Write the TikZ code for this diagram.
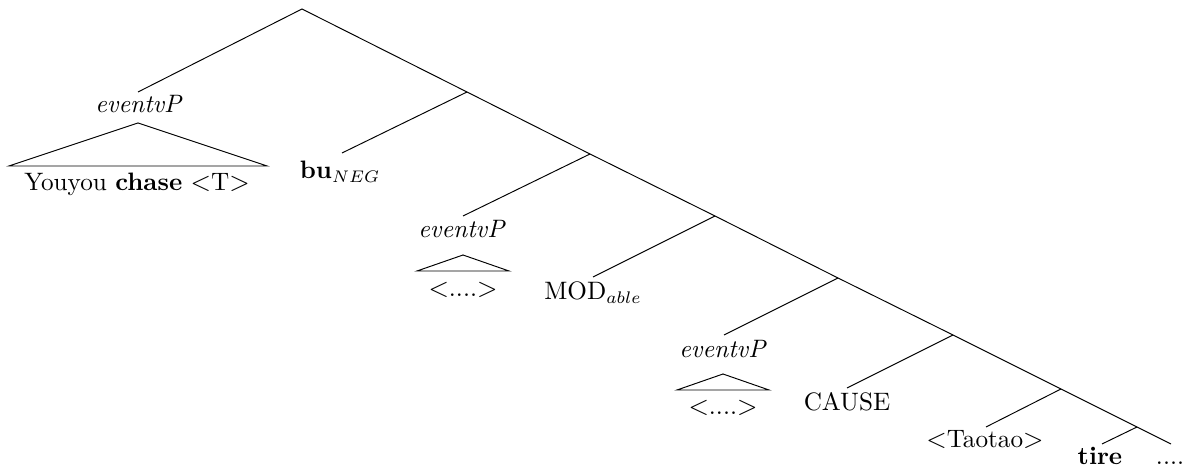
\documentclass[tikz,border=0pt]{standalone}
\begin{document}
\begin{tikzpicture}[x=0.41667pt,y=-0.41667pt,
  lbl/.style={anchor=base,inner sep=0pt,outer sep=0pt,font=\fontsize{10.5}{12.6}\selectfont},
  edge/.style={draw=black,line width=0.4pt}]
\useasboundingbox (0,0) rectangle (1184,470);
% branch points
\coordinate (r) at (302,9);
\coordinate (b1) at (467,92);
\coordinate (b2) at (590,154);
\coordinate (b3) at (715,216);
\coordinate (b4) at (838,278);
\coordinate (b5) at (953,335);
\coordinate (b6) at (1061,389);
\coordinate (b7) at (1137,427);
\coordinate (e8) at (1171,444);
% leaf line ends
\coordinate (l0) at (138,92);
\coordinate (l1) at (342,153);
\coordinate (l2) at (463,216);
\coordinate (l3) at (593,277);
\coordinate (l4) at (724,335);
\coordinate (l5) at (847,388);
\coordinate (l6) at (986,427);
\coordinate (l7) at (1102,444);
% triangles
\coordinate (t1a) at (138,123); \coordinate (t1l) at (9,166); \coordinate (t1r) at (267,166);
\coordinate (t2a) at (463,255); \coordinate (t2l) at (417,271); \coordinate (t2r) at (509,271);
\coordinate (t3a) at (723,374); \coordinate (t3l) at (677,390); \coordinate (t3r) at (769,390);
% labels
\node[lbl] (ev1) at (139,113) {\textit{eventvP}};
\node[lbl] (yc) at (137,191) {Youyou \textbf{chase} $<$T$>$};
\node[lbl] (bu) at (340,179) {\textbf{bu}$_{NEG}$};
\node[lbl] (ev2) at (462,238) {\textit{eventvP}};
\node[lbl] (d2) at (463,297) {$<$....$>$};
\node[lbl] (mod) at (593,300) {MOD$_{able}$};
\node[lbl] (ev3) at (723,358) {\textit{eventvP}};
\node[lbl] (d3) at (723,415) {$<$....$>$};
\node[lbl] (cause) at (847,411) {CAUSE};
\node[lbl] (tao) at (985,448) {$<$Taotao$>$};
\node[lbl] (tire) at (1100,465) {\textbf{tire}};
\node[lbl] (dots) at (1170,465) {....};
% edges
\draw[edge] (l0) -- (r) -- (b1) -- (b2) -- (b3) -- (b4) -- (b5) -- (b6) -- (b7) -- (e8);
\draw[edge] (b1) -- (l1);
\draw[edge] (b2) -- (l2);
\draw[edge] (b3) -- (l3);
\draw[edge] (b4) -- (l4);
\draw[edge] (b5) -- (l5);
\draw[edge] (b6) -- (l6);
\draw[edge] (b7) -- (l7);
\draw[edge] (t1a) -- (t1l) -- (t1r) -- cycle;
\draw[edge] (t2a) -- (t2l) -- (t2r) -- cycle;
\draw[edge] (t3a) -- (t3l) -- (t3r) -- cycle;
\end{tikzpicture}
\end{document}
